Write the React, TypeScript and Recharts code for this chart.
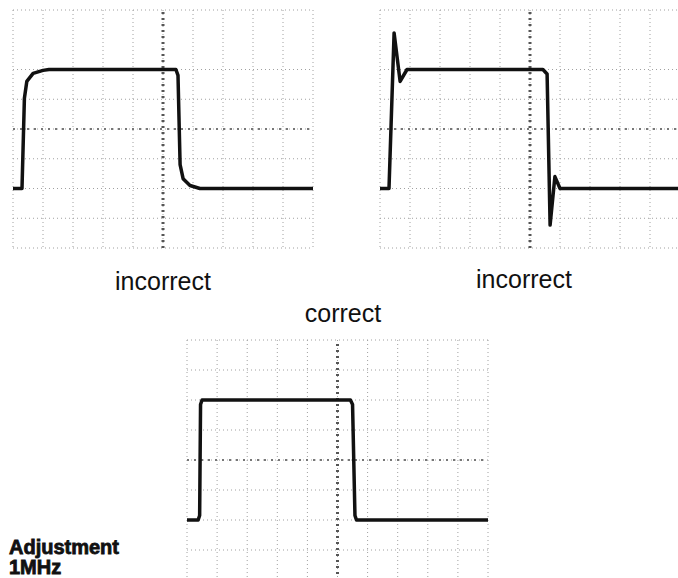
import React from 'react';
import { LineChart, Line, XAxis, YAxis, CartesianGrid, ReferenceLine } from 'recharts';

// graticule: 10 horizontal x 8 vertical divisions
const gridX = [0, 1, 2, 3, 4, 5, 6, 7, 8, 9, 10];
const gridY = [-4, -3, -2, -1, 0, 1, 2, 3, 4];

// trace 1: over-damped (rounded corners)
const roundedT = [0, 0.3, 0.38, 0.46, 0.67, 1.0, 1.2, 5.43, 5.5, 5.57, 5.67, 5.9, 6.23, 10];
const roundedV = [-2, -2, 1.03, 1.6, 1.87, 1.97, 2, 2, 1.8, -1.2, -1.67, -1.9, -2, -2];

// trace 2: overshoot / ringing
const ringT = [0, 0.3, 0.47, 0.67, 0.9, 5.43, 5.57, 5.67, 5.83, 6.0, 10];
const ringV = [-2, -2, 3.23, 1.6, 2, 2, 1.85, -3.23, -1.6, -2, -2];

// trace 3: correct square wave
const squareT = [0, 0.37, 0.42, 0.45, 0.5, 5.43, 5.5, 5.58, 5.63, 10];
const squareV = [-2, -2, -1.85, 1.85, 2, 2, 1.85, -1.85, -2, -2];

const toRows = (t: number[], v: number[]) => t.map((x, i) => ({ t: x, v: v[i] }));

interface ScopeProps {
  t: number[];
  v: number[];
  left: number;
  top: number;
  width: number;
  height: number;
}

const Scope: React.FC<ScopeProps> = ({ t, v, left, top, width, height }) => {
  const data = toRows(t, v);
  return (
    <div style={{ position: 'absolute', left, top }}>
      <LineChart width={width} height={height} data={data} margin={{ top: 2, right: 2, bottom: 2, left: 2 }}>
        <XAxis dataKey="t" type="number" domain={[0, 10]} ticks={gridX} hide />
        <YAxis type="number" domain={[-4, 4]} ticks={gridY} hide />
        <CartesianGrid stroke="#a0a0a0" strokeDasharray="1 3" strokeWidth={1} />
        {/* centre lines carry the minor ticks */}
        <ReferenceLine x={5} stroke="#555" strokeDasharray="2 4" strokeWidth={3} />
        <ReferenceLine y={0} stroke="#777" strokeDasharray="2 5" strokeWidth={2} />
        <Line
          type="linear"
          dataKey="v"
          stroke="#111"
          strokeWidth={3.5}
          dot={false}
          strokeLinejoin="round"
          isAnimationActive={false}
        />
      </LineChart>
    </div>
  );
};

const App: React.FC = () => {
  return (
    <div
      style={{
        position: 'absolute',
        left: 0,
        top: 0,
        width: 678,
        height: 578,
        overflow: 'hidden',
        background: '#fff',
      }}
    >
      <Scope t={roundedT} v={roundedV} left={11} top={8} width={304} height={242} />
      <Scope t={ringT} v={ringV} left={378} top={8} width={304} height={242} />
      <Scope t={squareT} v={squareV} left={185} top={338} width={305} height={244} />

      <svg width={678} height={578} style={{ position: 'absolute', left: 0, top: 0, pointerEvents: 'none' }}>
        <g fontFamily="'Liberation Sans', Arial, sans-serif" fill="#111">
          <text x={163} y={290} fontSize={25} textAnchor="middle">incorrect</text>
          <text x={524} y={288} fontSize={25} textAnchor="middle">incorrect</text>
          <text x={343} y={322} fontSize={25} textAnchor="middle">correct</text>
          <text x={9} y={554} fontSize={20} fontWeight={900} stroke="#111" strokeWidth={0.8}>Adjustment</text>
          <text x={9} y={574} fontSize={20} fontWeight={900} stroke="#111" strokeWidth={0.8}>1MHz</text>
        </g>
      </svg>
    </div>
  );
};

export default App;
